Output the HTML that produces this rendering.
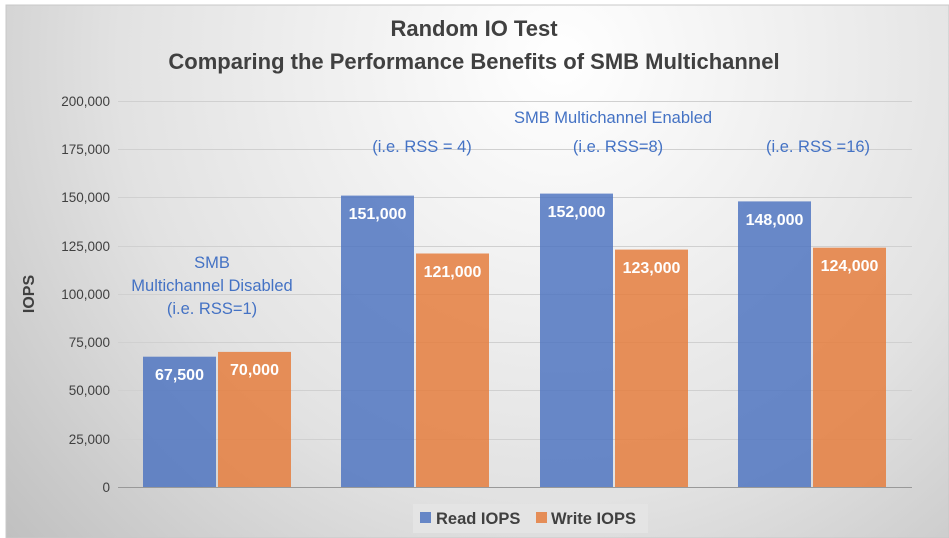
<!DOCTYPE html>
<html><head><style>
html,body{margin:0;padding:0;background:#fff;}
svg{display:block;font-family:"Liberation Sans",sans-serif;}
</style></head><body>
<svg width="949" height="538" viewBox="0 0 949 538">
<defs>
<radialGradient id="bg" cx="560" cy="60" r="800" gradientUnits="userSpaceOnUse">
<stop offset="0" stop-color="#ffffff"/>
<stop offset="0.55" stop-color="#e2e2e2"/>
<stop offset="1" stop-color="#b8b8b8"/>
</radialGradient>
</defs>
<rect x="6" y="5" width="943" height="533" fill="url(#bg)" stroke="#c8c8c8" stroke-width="1"/>
<g font-weight="bold" fill="#404040" font-size="22" text-anchor="middle">
<text x="474" y="36">Random IO Test</text>
<text x="474" y="69">Comparing the Performance Benefits of SMB Multichannel</text>
</g>
<g stroke="#d0d0d0" stroke-width="1">
<line x1="118" x2="912" y1="101.5" y2="101.5"/>
<line x1="118" x2="912" y1="149.5" y2="149.5"/>
<line x1="118" x2="912" y1="197.5" y2="197.5"/>
<line x1="118" x2="912" y1="246.5" y2="246.5"/>
<line x1="118" x2="912" y1="294.5" y2="294.5"/>
<line x1="118" x2="912" y1="342.5" y2="342.5"/>
<line x1="118" x2="912" y1="390.5" y2="390.5"/>
<line x1="118" x2="912" y1="439.5" y2="439.5"/>
</g>
<line x1="118" x2="912" y1="487.5" y2="487.5" stroke="#999" stroke-width="1"/>
<g font-size="13.5" fill="#404040" text-anchor="end">
<text x="110" y="106">200,000</text>
<text x="110" y="154">175,000</text>
<text x="110" y="202">150,000</text>
<text x="110" y="251">125,000</text>
<text x="110" y="299">100,000</text>
<text x="110" y="347">75,000</text>
<text x="110" y="395">50,000</text>
<text x="110" y="444">25,000</text>
<text x="110" y="492">0</text>
</g>
<text transform="translate(34,294) rotate(-90)" text-anchor="middle" font-weight="bold" font-size="16" fill="#404040">IOPS</text>
<g fill="#4a72c0" opacity="0.82">
<rect x="143" y="356.7" width="73" height="130.3"/>
<rect x="341" y="195.6" width="73" height="291.4"/>
<rect x="540" y="193.6" width="73" height="293.4"/>
<rect x="738" y="201.4" width="73" height="285.6"/>
</g>
<g fill="#e57e3e" opacity="0.85">
<rect x="218" y="351.9" width="73" height="135.1"/>
<rect x="416" y="253.5" width="73" height="233.5"/>
<rect x="615" y="249.6" width="73" height="237.4"/>
<rect x="813" y="247.7" width="73" height="239.3"/>
</g>
<g font-size="16" font-weight="bold" fill="#fff" text-anchor="middle">
<text x="179.5" y="380">67,500</text>
<text x="254.5" y="375">70,000</text>
<text x="377.5" y="219">151,000</text>
<text x="452.5" y="277">121,000</text>
<text x="576.5" y="217">152,000</text>
<text x="651.5" y="273">123,000</text>
<text x="774.5" y="225">148,000</text>
<text x="849.5" y="271">124,000</text>
</g>
<g font-size="16.5" fill="#4472c4" text-anchor="middle">
<text x="212" y="268">SMB</text>
<text x="212" y="291">Multichannel Disabled</text>
<text x="212" y="314">(i.e. RSS=1)</text>
<text x="422" y="152">(i.e. RSS = 4)</text>
<text x="613" y="123">SMB Multichannel Enabled</text>
<text x="618" y="152">(i.e. RSS=8)</text>
<text x="818" y="152">(i.e. RSS =16)</text>
</g>
<rect x="413" y="504" width="235" height="29" fill="#e4e4e4"/>
<rect x="420" y="512" width="11" height="11" fill="#4a72c0" opacity="0.82"/>
<rect x="536" y="512" width="11" height="11" fill="#e57e3e" opacity="0.85"/>
<g font-size="16.5" font-weight="bold" fill="#404040">
<text x="436" y="524">Read IOPS</text>
<text x="551" y="524">Write IOPS</text>
</g>
</svg>
</body></html>
